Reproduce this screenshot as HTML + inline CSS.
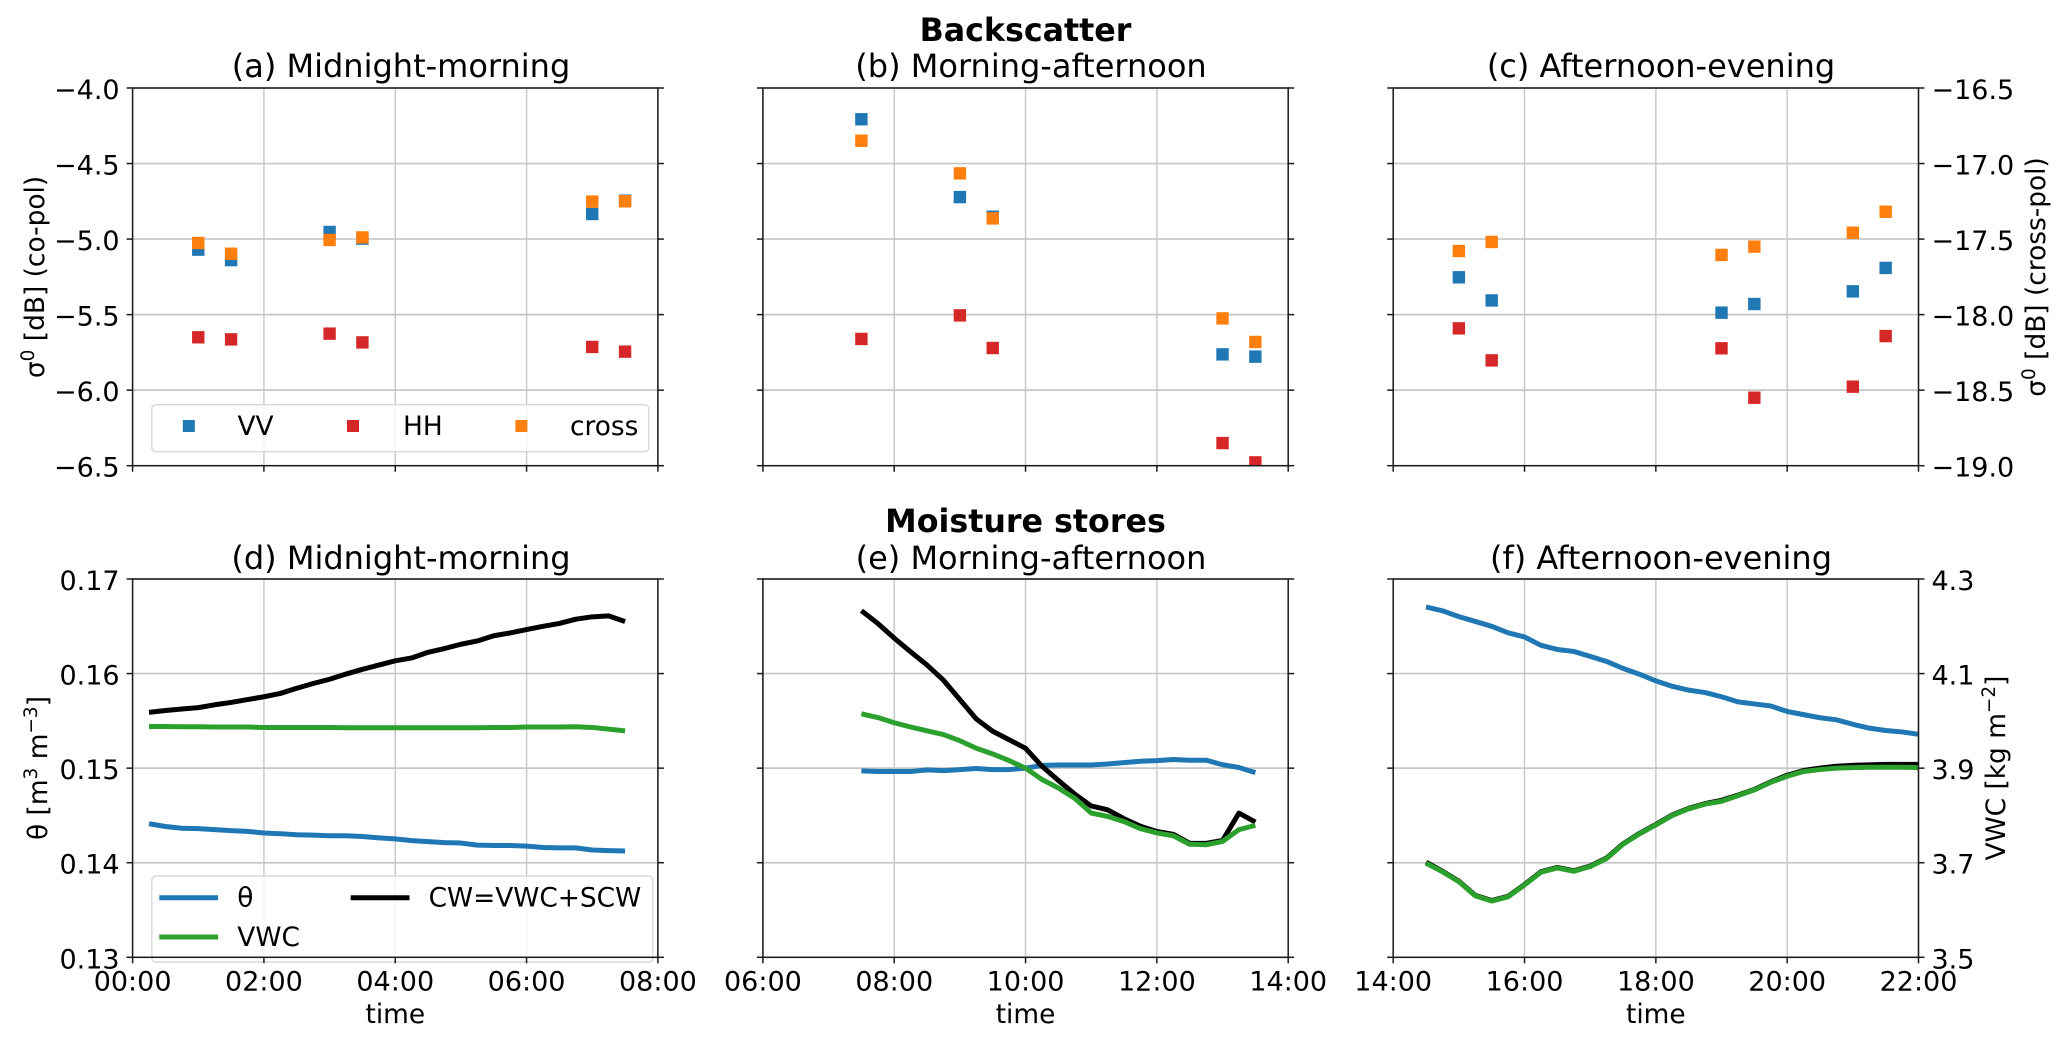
<!DOCTYPE html>
<html lang="en">
<head>
<meta charset="utf-8">
<title>Backscatter and moisture stores</title>
<style>
html,body{margin:0;padding:0;background:#fff;width:2067px;height:1041px;overflow:hidden}
svg{display:block}
text{font-family:"DejaVu Sans","Liberation Sans",sans-serif;fill:#000}
.tk{font-size:26.4px}
.tl{font-size:27px}
.ti{font-size:32px}
.su{font-size:31.7px;font-weight:bold}
</style>
</head>
<body>
<svg id="fig" xmlns="http://www.w3.org/2000/svg" width="2067" height="1041" viewBox="0 0 2067 1041">
  <rect width="2067" height="1041" fill="#fff"/>
  <g id="panels"></g>

  <text class="su" x="1025.5" y="41" text-anchor="middle">Backscatter</text>
  <text class="su" x="1025.5" y="532" text-anchor="middle">Moisture stores</text>

  <text class="ti" x="401" y="77" text-anchor="middle">(a) Midnight-morning</text>
  <text class="ti" x="1031" y="77" text-anchor="middle">(b) Morning-afternoon</text>
  <text class="ti" x="1661" y="77" text-anchor="middle">(c) Afternoon-evening</text>
  <text class="ti" x="401" y="569" text-anchor="middle">(d) Midnight-morning</text>
  <text class="ti" x="1031" y="569" text-anchor="middle">(e) Morning-afternoon</text>
  <text class="ti" x="1661" y="569" text-anchor="middle">(f) Afternoon-evening</text>

  <text class="tk" x="395.3" y="1023" text-anchor="middle">time</text>
  <text class="tk" x="1025.5" y="1023" text-anchor="middle">time</text>
  <text class="tk" x="1655.8" y="1023" text-anchor="middle">time</text>

  <text class="tk" transform="translate(44,277) rotate(-90)" text-anchor="middle">σ<tspan font-size="18.5" dy="-10">0</tspan><tspan dy="10"> [dB] (co-pol)</tspan></text>
  <text class="tk" transform="translate(2045,277) rotate(-90)" text-anchor="middle">σ<tspan font-size="18.5" dy="-10">0</tspan><tspan dy="10"> [dB] (cross-pol)</tspan></text>
  <text class="tk" transform="translate(47,768) rotate(-90)" text-anchor="middle">θ [m<tspan font-size="18.5" dy="-10">3</tspan><tspan dy="10"> m</tspan><tspan font-size="18.5" dy="-10">−3</tspan><tspan dy="10">]</tspan></text>
  <text class="tk" transform="translate(2005,768) rotate(-90)" text-anchor="middle">VWC [kg m<tspan font-size="18.5" dy="-10">−2</tspan><tspan dy="10">]</tspan></text>
</svg>

<script>
// ---- axis ticks ----
const xTickHoursLeft = [0, 2, 4, 6, 8];
const xTickHoursMid = [6, 8, 10, 12, 14];
const xTickHoursRight = [14, 16, 18, 20, 22];
const xTickLabelsLeft = ['00:00', '02:00', '04:00', '06:00', '08:00'];
const xTickLabelsMid = ['06:00', '08:00', '10:00', '12:00', '14:00'];
const xTickLabelsRight = ['14:00', '16:00', '18:00', '20:00', '22:00'];
const coPolTicks = [-4, -4.5, -5, -5.5, -6, -6.5];
const coPolTickLabels = ['−4.0', '−4.5', '−5.0', '−5.5', '−6.0', '−6.5'];
const crossPolTicks = [-16.5, -17, -17.5, -18, -18.5, -19];
const crossPolTickLabels = ['−16.5', '−17.0', '−17.5', '−18.0', '−18.5', '−19.0'];
const thetaTicks = [0.17, 0.16, 0.15, 0.14, 0.13];
const thetaTickLabels = ['0.17', '0.16', '0.15', '0.14', '0.13'];
const vwcTicks = [4.3, 4.1, 3.9, 3.7, 3.5];
const vwcTickLabels = ['4.3', '4.1', '3.9', '3.7', '3.5'];

// ---- backscatter data (co-pol in dB on the left scale, cross-pol on the right scale) ----
const timesA = [1, 1.5, 3, 3.5, 7, 7.5];
const vvA = [-5.07, -5.139, -4.953, -4.997, -4.834, -4.746];
const hhA = [-5.65, -5.664, -5.626, -5.684, -5.714, -5.745];
const crossA = [-17.526, -17.597, -17.506, -17.489, -17.252, -17.25];

const timesB = [7.5, 9, 9.5, 13, 13.5];
const vvB = [-4.207, -4.722, -4.852, -5.763, -5.778];
const hhB = [-5.661, -5.505, -5.721, -6.35, -6.478];
const crossB = [-16.849, -17.065, -17.363, -18.025, -18.181];

const timesC = [15, 15.5, 19, 19.5, 21, 21.5];
const vvC = [-5.253, -5.406, -5.487, -5.43, -5.346, -5.191];
const hhC = [-5.591, -5.803, -5.723, -6.05, -5.977, -5.642];
const crossC = [-17.579, -17.519, -17.605, -17.55, -17.458, -17.319];

// ---- moisture data ----
const timesD = [0.25, 0.5, 0.75, 1, 1.25, 1.5, 1.75, 2, 2.25, 2.5, 2.75, 3, 3.25, 3.5, 3.75, 4, 4.25, 4.5, 4.75, 5, 5.25, 5.5, 5.75, 6, 6.25, 6.5, 6.75, 7, 7.25, 7.5];
const thetaD = [0.14412, 0.14383, 0.14365, 0.14361, 0.1435, 0.14339, 0.14332, 0.14314, 0.14307, 0.14296, 0.14292, 0.14285, 0.14285, 0.14277, 0.14263, 0.14252, 0.14234, 0.14223, 0.14212, 0.14208, 0.14186, 0.14182, 0.14182, 0.14175, 0.14161, 0.14157, 0.14157, 0.14135, 0.14128, 0.14124];
const vwcD = [3.988, 3.988, 3.9876, 3.9876, 3.9869, 3.9869, 3.9869, 3.9861, 3.9861, 3.9861, 3.9861, 3.9861, 3.9854, 3.9854, 3.9854, 3.9854, 3.9854, 3.9854, 3.9854, 3.9854, 3.9854, 3.9861, 3.9861, 3.9869, 3.9869, 3.9869, 3.9876, 3.9861, 3.9825, 3.9788];
const cwD = [4.018, 4.022, 4.025, 4.028, 4.034, 4.039, 4.045, 4.051, 4.058, 4.069, 4.079, 4.088, 4.099, 4.109, 4.118, 4.127, 4.133, 4.145, 4.153, 4.162, 4.169, 4.18, 4.186, 4.193, 4.2, 4.206, 4.215, 4.22, 4.222, 4.21];

const timesE = [7.5, 7.75, 8, 8.25, 8.5, 8.75, 9, 9.25, 9.5, 9.75, 10, 10.25, 10.5, 10.75, 11, 11.25, 11.5, 11.75, 12, 12.25, 12.5, 12.75, 13, 13.25, 13.5];
const thetaE = [0.14971, 0.14964, 0.14964, 0.14964, 0.14982, 0.14974, 0.14985, 0.14996, 0.14985, 0.14985, 0.15, 0.15029, 0.15033, 0.15033, 0.15033, 0.15044, 0.15058, 0.15073, 0.1508, 0.15091, 0.15084, 0.15084, 0.15036, 0.15007, 0.14953];
const vwcE = [4.015, 4.007, 3.996, 3.987, 3.979, 3.971, 3.958, 3.942, 3.93, 3.916, 3.9, 3.876, 3.858, 3.836, 3.805, 3.798, 3.787, 3.772, 3.763, 3.757, 3.739, 3.738, 3.745, 3.77, 3.779];
const cwE = [4.233, 4.206, 4.175, 4.146, 4.118, 4.086, 4.045, 4.004, 3.978, 3.96, 3.942, 3.904, 3.874, 3.845, 3.82, 3.812, 3.793, 3.777, 3.766, 3.76, 3.741, 3.741, 3.747, 3.805, 3.786];

const timesF = [14.5, 14.75, 15, 15.25, 15.5, 15.75, 16, 16.25, 16.5, 16.75, 17, 17.25, 17.5, 17.75, 18, 18.25, 18.5, 18.75, 19, 19.25, 19.5, 19.75, 20, 20.25, 20.5, 20.75, 21, 21.25, 21.5, 21.75, 22];
const thetaF = [0.16704, 0.16664, 0.16602, 0.16551, 0.165, 0.16431, 0.16387, 0.16299, 0.16255, 0.16234, 0.16182, 0.16128, 0.16055, 0.15993, 0.15923, 0.15865, 0.15825, 0.15799, 0.15755, 0.15701, 0.15679, 0.15657, 0.15599, 0.15566, 0.15533, 0.15511, 0.15464, 0.15423, 0.15398, 0.15383, 0.15358];
const vwcF = [3.699, 3.681, 3.66, 3.63, 3.619, 3.628, 3.653, 3.68, 3.689, 3.682, 3.692, 3.709, 3.739, 3.761, 3.78, 3.8, 3.814, 3.824, 3.83, 3.842, 3.854, 3.87, 3.883, 3.893, 3.897, 3.9, 3.901, 3.902, 3.902, 3.902, 3.901];
const cwF = [3.701, 3.682, 3.661, 3.631, 3.62, 3.629, 3.654, 3.681, 3.69, 3.683, 3.693, 3.71, 3.74, 3.762, 3.781, 3.801, 3.815, 3.825, 3.832, 3.843, 3.855, 3.871, 3.885, 3.895, 3.9, 3.904, 3.906, 3.907, 3.908, 3.908, 3.908];

const BLUE = '#1f77b4', RED = '#d62728', ORANGE = '#ff7f0e', GREEN = '#2ca02c', BLACK = '#000';
const NS = 'http://www.w3.org/2000/svg';
const root = document.getElementById('panels');

function mk(tag, attrs, parent, txt) {
  const el = document.createElementNS(NS, tag);
  for (const k in attrs) el.setAttribute(k, attrs[k]);
  if (txt !== undefined) el.textContent = txt;
  parent.appendChild(el);
  return el;
}
function linear(d0, d1, r0, r1) {
  return v => r0 + (v - d0) / (d1 - d0) * (r1 - r0);
}

function drawPanel(p) {
  const L = p.left, R = p.left + 525.3, T = p.top, B = p.top + p.height;
  const sx = linear(p.xMin, p.xMin + 8, L, R);
  const syL = linear(p.leftDomain[0], p.leftDomain[1], T, B);
  const syR = linear(p.rightDomain[0], p.rightDomain[1], T, B);

  const g = mk('g', {}, root);
  
  

  const cp = mk('clipPath', {id: 'clip-' + p.id}, g);
  mk('rect', {x: L, y: T, width: R - L, height: B - T}, cp);

  // grid
  const grid = mk('g', {stroke: '#c6c6c6', fill: 'none'}, g);
  
  
  p.xTicks.forEach(h => {
    const gl = mk('line', {x1: sx(h), x2: sx(h), y1: T, y2: B, 'stroke-width': 1.4}, grid);
    
    
  });
  p.leftTicks.forEach(v => {
    const gl = mk('line', {x1: L, x2: R, y1: syL(v), y2: syL(v), 'stroke-width': 1.7}, grid);
    
    
  });

  // marks
  const marks = mk('g', {'clip-path': 'url(#clip-' + p.id + ')'}, g);
  
  
  p.series.forEach(s => {
    const sy = s.axis === 'right' ? syR : syL;
    if (s.type === 'line') {
      const pts = p.times.map((t, i) => sx(t).toFixed(2) + ',' + sy(s.values[i]).toFixed(2)).join(' ');
      const pl = mk('polyline', {points: pts, fill: 'none', stroke: s.color, 'stroke-width': 5, 'stroke-linejoin': 'round'}, marks);
      
      
    } else {
      p.times.forEach((t, i) => {
        const r = mk('rect', {x: sx(t) - 6.2, y: sy(s.values[i]) - 6.2, width: 12.4, height: 12.4, fill: s.color}, marks);
        
        
      });
    }
  });

  // legend sits over the marks but under the frame
  if (p.legend) p.legend(g);

  // frame
  const fr = mk('rect', {x: L, y: T, width: R - L, height: B - T, fill: 'none', stroke: '#1a1a1a', 'stroke-width': 1.5}, g);
  
  

  // ticks
  const tg = mk('g', {stroke: '#1a1a1a', 'stroke-width': 1.5}, g);
  
  
  p.xTicks.forEach((h, i) => {
    const tm = mk('line', {x1: sx(h), x2: sx(h), y1: B, y2: B + 6}, tg);
    
    
    if (p.showXLabels) {
      const lb = mk('text', {class: 'tl', x: sx(h), y: B + 33, 'text-anchor': 'middle', stroke: 'none'}, g, p.xLabels[i]);
      
      
    }
  });
  p.leftTicks.forEach((v, i) => {
    const a = mk('line', {x1: L - 6, x2: L, y1: syL(v), y2: syL(v)}, tg);
    
    
    if (p.showLeftLabels) {
      const lb = mk('text', {class: 'tl', x: L - 13, y: syL(v) + 11, 'text-anchor': 'end'}, g, p.leftLabels[i]);
      
      
    }
  });
  p.rightTicks.forEach((v, i) => {
    const a = mk('line', {x1: R, x2: R + 6, y1: syR(v), y2: syR(v)}, tg);
    
    
    if (p.showRightLabels) {
      const lb = mk('text', {class: 'tl', x: R + 13, y: syR(v) + 11, 'text-anchor': 'start'}, g, p.rightLabels[i]);
      
      
    }
  });
}

function scatterLegend(g) {
  const lg = mk('g', {}, g);
  
  
  const box = mk('rect', {x: 151.8, y: 404.7, width: 497, height: 47, rx: 4, fill: '#fff', 'fill-opacity': 0.8, stroke: '#d8d8d8', 'stroke-width': 1.4}, lg);
  
  
  [[188.8, BLUE, 237.5, 'VV'], [353, RED, 403, 'HH'], [521.4, ORANGE, 570, 'cross']].forEach(e => {
    const r = mk('rect', {x: e[0] - 6, y: 420, width: 12, height: 12, fill: e[1]}, lg);
    
    
    const t = mk('text', {class: 'tk', x: e[2], y: 435}, lg, e[3]);
    
    
  });
}
function moistureLegend(g) {
  const lg = mk('g', {}, g);
  
  
  const box = mk('rect', {x: 151.8, y: 876, width: 501, height: 86, rx: 4, fill: '#fff', 'fill-opacity': 0.8, stroke: '#d8d8d8', 'stroke-width': 1.4}, lg);
  
  
  [[159.3, 897.7, BLUE, 237.3, 906.7, 'θ'], [159.3, 937, GREEN, 237.3, 946, 'VWC'], [350.7, 897.7, BLACK, 428.6, 906.7, 'CW=VWC+SCW']].forEach(e => {
    const l = mk('line', {x1: e[0], x2: e[0] + 58.8, y1: e[1], y2: e[1], stroke: e[2], 'stroke-width': 5}, lg);
    
    
    const t = mk('text', {class: 'tk', x: e[3], y: e[4]}, lg, e[5]);
    
    
  });
}

const LEFTS = [132.6, 762.9, 1393.2];
function topPanel(id, col, xMin, xTicks, times, vv, hh, cross, opts) {
  drawPanel(Object.assign({
    id, left: LEFTS[col], top: 88, height: 377.7, xMin, xTicks, xLabels: [], times,
    leftDomain: [-4, -6.5], rightDomain: [-16.5, -19],
    leftTicks: coPolTicks, rightTicks: crossPolTicks,
    leftLabels: coPolTickLabels, rightLabels: crossPolTickLabels,
    series: [
      {type: 'square', name: 'vv', color: BLUE, values: vv, axis: 'left'},
      {type: 'square', name: 'hh', color: RED, values: hh, axis: 'left'},
      {type: 'square', name: 'cross', color: ORANGE, values: cross, axis: 'right'}
    ]
  }, opts));
}
function bottomPanel(id, col, xMin, xTicks, xLabels, times, theta, vwc, cw, opts) {
  drawPanel(Object.assign({
    id, left: LEFTS[col], top: 579, height: 378.3, xMin, xTicks, xLabels, times, showXLabels: true,
    leftDomain: [0.17, 0.13], rightDomain: [4.3, 3.5],
    leftTicks: thetaTicks, rightTicks: vwcTicks,
    leftLabels: thetaTickLabels, rightLabels: vwcTickLabels,
    series: [
      {type: 'line', name: 'theta', color: BLUE, values: theta, axis: 'left'},
      {type: 'line', name: 'cw', color: BLACK, values: cw, axis: 'right'},
      {type: 'line', name: 'vwc', color: GREEN, values: vwc, axis: 'right'}
    ]
  }, opts));
}

topPanel('a', 0, 0, xTickHoursLeft, timesA, vvA, hhA, crossA, {showLeftLabels: true, legend: scatterLegend});
topPanel('b', 1, 6, xTickHoursMid, timesB, vvB, hhB, crossB, {});
topPanel('c', 2, 14, xTickHoursRight, timesC, vvC, hhC, crossC, {showRightLabels: true});
bottomPanel('d', 0, 0, xTickHoursLeft, xTickLabelsLeft, timesD, thetaD, vwcD, cwD, {showLeftLabels: true, legend: moistureLegend});
bottomPanel('e', 1, 6, xTickHoursMid, xTickLabelsMid, timesE, thetaE, vwcE, cwE, {});
bottomPanel('f', 2, 14, xTickHoursRight, xTickLabelsRight, timesF, thetaF, vwcF, cwF, {showRightLabels: true});
</script>
</body>
</html>
